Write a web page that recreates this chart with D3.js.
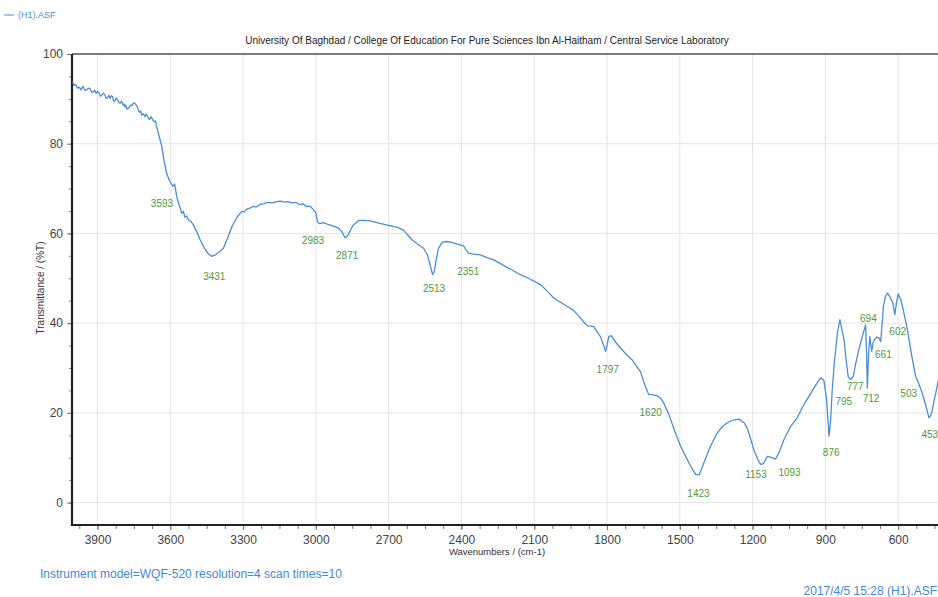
<!doctype html>
<html lang="en">
  <head>
    <meta charset="utf-8">
    <title>FTIR spectrum (H1).ASF</title>
    <script src="https://d3js.org/d3.v7.min.js"></script>
    <style>
      body { margin: 0; background: #fff; }
      svg { display: block; font-family: 'Liberation Sans', Arial, sans-serif; }
    </style>
  </head>
  <body>
    <div id="root"></div>
  </body>
  <script>

    //data:
    const wavenumbers = [4003, 3996, 3990, 3983, 3975, 3968, 3960, 3952, 3945, 3937, 3930, 3923, 3917, 3911, 3905, 3900,
      3895, 3888, 3882, 3876, 3870, 3864, 3858, 3853, 3848, 3843, 3838, 3833, 3828, 3823, 3818, 3812,
      3807, 3801, 3795, 3791, 3787, 3783, 3780, 3775, 3770, 3764, 3758, 3751, 3745, 3740, 3735, 3731, 3727, 3722, 3718, 3711,
      3705, 3700, 3695, 3690, 3685, 3680, 3676, 3671, 3666, 3661, 3656, 3645, 3635, 3625,
      3615, 3605, 3598, 3590, 3582, 3573, 3565, 3558, 3553, 3546, 3540, 3532, 3525, 3515, 3505, 3490, 3477, 3460, 3445, 3430, 3415, 3400,
      3381, 3365, 3346, 3325, 3305, 3295, 3285, 3270, 3257, 3245, 3230, 3215, 3200, 3180, 3161, 3145, 3130, 3115, 3100, 3082, 3065, 3052,
      3040, 3025, 3010, 3000, 2993, 2985, 2970, 2954,
      2930, 2907, 2892, 2879, 2868, 2855, 2845, 2824, 2800, 2776, 2740, 2700, 2666, 2640, 2620, 2604, 2580, 2556, 2540,
      2530, 2519, 2512, 2505, 2495, 2480, 2460, 2440, 2410, 2391, 2380, 2370, 2350, 2322, 2295, 2267, 2230, 2190, 2157,
      2120, 2074, 2040, 2020, 1990, 1960, 1937, 1915, 1895, 1880, 1855, 1840, 1827, 1815, 1806, 1800, 1793, 1783, 1765,
      1744, 1720, 1696, 1680, 1662, 1645, 1628, 1610, 1593, 1580, 1566, 1545, 1518, 1500, 1476, 1455, 1435, 1420, 1401,
      1375, 1346, 1325, 1304, 1280, 1256, 1235, 1222, 1208, 1195, 1180, 1167, 1155, 1139, 1120, 1105, 1090, 1071, 1045,
      1016, 995, 974, 950, 930, 919, 906, 895, 885, 878, 872, 862, 850, 840, 832, 823, 815, 806, 796, 785, 775, 762, 748,
      734, 730, 727, 722, 717, 709, 703, 697, 688, 679, 672, 666, 661, 652, 644, 634, 622, 614, 607, 600, 590, 582, 563,
      545, 528, 515, 501, 487, 473, 465, 459, 452, 445, 434, 420, 405];
    const transmittance = [93.8, 93.0, 93.2, 92.4, 92.6, 92.0, 92.8, 91.9, 92.0, 92.4, 92.2, 91.4, 91.6, 91.9, 91.2, 91.7,
      91.5, 90.6, 90.8, 91.3, 91.0, 90.1, 90.3, 90.8, 90.1, 90.7, 90.5, 89.4, 89.6, 90.2, 89.9, 89.2,
      89.0, 89.5, 88.6, 88.9, 88.2, 88.6, 87.7, 87.9, 88.0, 88.6, 88.5, 89.1, 88.9, 88.6, 88.1, 87.4, 87.0, 87.3, 86.4, 86.7,
      86.0, 86.6, 86.3, 85.6, 85.4, 86.0, 85.7, 85.2, 84.9, 85.1, 83.8, 81.5, 79.4, 76.0,
      73.4, 72.0, 71.3, 70.5, 71.0, 68.2, 66.5, 65.5, 64.5, 64.9, 63.6, 63.9, 63.0, 62.7, 61.9, 60.3, 58.6, 56.8, 55.6, 54.9, 55.2, 55.8,
      56.7, 58.8, 61.5, 63.6, 64.9, 64.8, 65.4, 65.7, 66.0, 65.9, 66.5, 66.6, 66.9, 66.8, 67.1, 67.2, 67.0, 67.1, 66.8, 66.9, 66.4, 66.6,
      66.0, 66.1, 65.3, 64.6, 62.5, 62.2, 62.4, 62.1,
      61.7, 61.2, 60.3, 59.0, 59.6, 61.0, 61.9, 62.9, 62.9, 62.8, 62.3, 61.8, 61.4, 60.8, 59.6, 58.6, 57.6, 56.7, 55.2,
      53.2, 50.8, 51.5, 53.8, 56.6, 58.0, 58.2, 58.0, 57.5, 57.2, 56.3, 55.6, 55.4, 55.2, 54.6, 54.1, 53.0, 51.8, 50.8,
      49.9, 48.6, 46.8, 45.6, 44.6, 43.6, 42.8, 41.5, 40.2, 39.4, 39.3, 38.0, 37.0, 35.2, 33.7, 35.0, 37.0, 37.2, 35.8,
      34.4, 33.0, 31.8, 30.5, 29.2, 26.3, 24.1, 24.0, 23.8, 23.3, 22.2, 19.6, 15.5, 13.0, 10.3, 8.1, 6.3, 6.2, 8.8,
      12.4, 15.5, 16.9, 17.8, 18.4, 18.6, 17.8, 16.6, 14.2, 11.8, 9.8, 8.5, 8.7, 10.3, 10.0, 9.7, 11.3, 14.0, 16.8,
      18.9, 21.2, 23.1, 25.3, 27.0, 27.8, 27.2, 23.0, 14.8, 18.5, 25.0, 31.8, 38.0, 40.8, 38.5, 36.3, 32.0, 28.1, 27.4, 28.1, 31.0, 34.1, 37.0,
      39.6, 33.0, 25.5, 33.0, 37.0, 33.7, 35.8, 36.3, 36.9, 36.7, 35.9, 40.0, 43.7, 46.0, 46.7, 45.9, 44.5, 41.9, 44.5, 46.5, 45.3, 43.7, 38.9,
      33.0, 28.1, 26.5, 24.4, 21.8, 18.9, 19.5, 20.7, 22.8, 24.4, 27.4, 29.0, 30.0];

    //marked peaks:
    const peakWavenumbers = [3593, 3431, 2983, 2871, 2513, 2351, 1797, 1620, 1423, 1153, 1093, 876, 795, 777, 712, 694, 661, 602, 503, 453];
    const peakTransmittance = [69.9, 53.7, 61.7, 58.4, 51.0, 54.8, 33.0, 23.4, 5.3, 9.4, 10.0, 14.3, 25.8, 29.0, 26.5, 44.3, 36.3, 41.4, 27.6, 18.3];

    const xTicks = [3900, 3600, 3300, 3000, 2700, 2400, 2100, 1800, 1500, 1200, 900, 600];
    const yTicks = [0, 20, 40, 60, 80, 100];

    //constants:
    const width = 938;
    const height = 597;
    const lineColor = "#4a8fd3";
    const peakColor = "#4f9a3c";
    // small sideways nudges so the peak labels sit where the instrument put them
    const labelNudge = { 3593: -10, 3431: 3, 2983: -7, 2351: -5, 1153: -8, 1093: 11, 795: -7, 694: -7, 503: -13, 453: -4 };

    const x = d3.scaleLinear().domain([4005, 400]).range([72, 946.7]);
    const y = d3.scaleLinear().domain([-5, 100]).range([525, 54]);

    const svg = d3.select("#root")
      .append("svg")
      .attr("width", width)
      .attr("height", height);

    //grid:
    svg.append("g")
      .selectAll("line")
      .data(xTicks)
      .enter()
      .append("line")
      .attr("x1", d => x(d)).attr("x2", d => x(d))
      .attr("y1", y(100)).attr("y2", y(-5))
      .attr("stroke", "#e4e4e4");

    svg.append("g")
      .selectAll("line")
      .data(yTicks)
      .enter()
      .append("line")
      .attr("x1", x(4005)).attr("x2", width)
      .attr("y1", d => y(d)).attr("y2", d => y(d))
      .attr("stroke", "#e4e4e4");

    //axes:
    const xMinor = d3.range(3975, 400, -75);
    const yMinor = d3.range(0, 101, 5);

    svg.append("g")
      .attr("transform", `translate(0,${y(-5)})`)
      .call(d3.axisBottom(x).tickValues(xMinor).tickSize(4).tickFormat(""))
      .call(g => g.select(".domain").remove())
      .call(g => g.selectAll("line").attr("stroke", "#777"));

    svg.append("g")
      .attr("transform", `translate(0,${y(-5)})`)
      .call(d3.axisBottom(x).tickValues(xTicks).tickSize(5).tickPadding(5).tickFormat(d3.format("d")))
      .call(g => g.select(".domain").remove())
      .call(g => g.selectAll("line").attr("stroke", "#777"))
      .call(g => g.selectAll("text").attr("font-size", "12px").attr("fill", "#444")
        .attr("font-family", "'Liberation Sans', Arial, sans-serif"));

    svg.append("g")
      .attr("transform", `translate(${x(4005)},0)`)
      .call(d3.axisLeft(y).tickValues(yMinor).tickSize(3).tickFormat(""))
      .call(g => g.select(".domain").remove())
      .call(g => g.selectAll("line").attr("stroke", "#888"));

    svg.append("g")
      .attr("transform", `translate(${x(4005)},0)`)
      .call(d3.axisLeft(y).tickValues(yTicks).tickSize(5).tickPadding(4))
      .call(g => g.select(".domain").remove())
      .call(g => g.selectAll("line").attr("stroke", "#777"))
      .call(g => g.selectAll("text").attr("font-size", "12px").attr("fill", "#444")
        .attr("font-family", "'Liberation Sans', Arial, sans-serif"));

    //frame:
    svg.append("line")
      .attr("x1", x(4005)).attr("x2", width)
      .attr("y1", y(100)).attr("y2", y(100))
      .attr("stroke", "#555").attr("stroke-width", 1.5);
    svg.append("line")
      .attr("x1", x(4005)).attr("x2", width)
      .attr("y1", y(-5)).attr("y2", y(-5))
      .attr("stroke", "#222").attr("stroke-width", 2.2);
    svg.append("line")
      .attr("x1", x(4005)).attr("x2", x(4005))
      .attr("y1", y(100)).attr("y2", y(-5) + 1)
      .attr("stroke", "#222").attr("stroke-width", 2.2);

    //spectrum:
    const points = wavenumbers.map((w, i) => [w, transmittance[i]]);
    const line = d3.line()
      .x(d => x(d[0]))
      .y(d => y(d[1]));

    svg.append("path")
      .datum(points)
      .attr("d", line)
      .attr("fill", "none")
      .attr("stroke", lineColor)
      .attr("stroke-width", 1.3)
      .attr("stroke-linejoin", "round");

    //peak labels:
    svg.append("g")
      .selectAll("text")
      .data(peakWavenumbers)
      .enter()
      .append("text")
      .text(d => d)
      .attr("x", d => x(d) + (labelNudge[d] || 0))
      .attr("y", (d, i) => y(peakTransmittance[i]) + 18)
      .attr("text-anchor", "middle")
      .attr("font-size", "10px")
      .attr("fill", peakColor);

    //texts:
    svg.append("text")
      .text("University Of Baghdad / College Of Education For Pure Sciences Ibn Al-Haitham / Central Service Laboratory")
      .attr("x", 487).attr("y", 44)
      .attr("text-anchor", "middle")
      .attr("font-size", "10px")
      .attr("fill", "#222");

    svg.append("text")
      .text("Wavenumbers / (cm-1)")
      .attr("x", 497).attr("y", 555)
      .attr("text-anchor", "middle")
      .attr("font-size", "9.5px")
      .attr("fill", "#333");

    svg.append("text")
      .text("Transmittance / (%T)")
      .attr("transform", "translate(44,288) rotate(-90)")
      .attr("text-anchor", "middle")
      .attr("font-size", "10px")
      .attr("fill", "#333");

    svg.append("line")
      .attr("x1", 4).attr("x2", 14)
      .attr("y1", 15).attr("y2", 15)
      .attr("stroke", lineColor).attr("stroke-width", 1);
    svg.append("text")
      .text("(H1).ASF")
      .attr("x", 18).attr("y", 18)
      .attr("font-size", "9px")
      .attr("fill", lineColor);

    svg.append("text")
      .text("Instrument model=WQF-520 resolution=4 scan times=10")
      .attr("x", 40).attr("y", 578)
      .attr("font-size", "12px")
      .attr("fill", "#3f8ad2");

    svg.append("text")
      .text("2017/4/5 15:28 (H1).ASF")
      .attr("x", 937).attr("y", 595)
      .attr("text-anchor", "end")
      .attr("font-size", "12px")
      .attr("fill", "#3f8ad2");

  </script>
</html>
